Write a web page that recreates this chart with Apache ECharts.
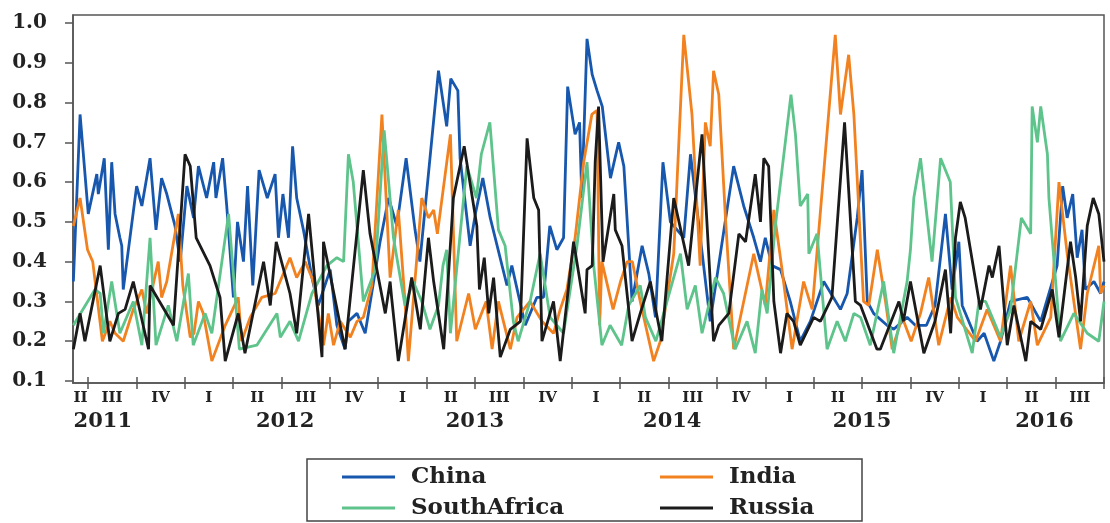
<!DOCTYPE html>
<html>
<head>
<meta charset="utf-8">
<script src="https://cdn.jsdelivr.net/npm/echarts@6/dist/echarts.min.js"></script>
<style>
  html, body { margin: 0; padding: 0; background: #fff; }
  #chart { width: 1110px; height: 523px; }
</style>
</head>
<body>
<div id="chart"></div>
<script>
// Weekly connectedness index, June 2011 – September 2016.
// x = weeks since the first observation, y = index value.
const chinaPts = [[0.1,.35],[1.9,.77],[4.1,.52],[6.4,.62],[6.8,.57],[8.4,.66],[9.5,.43],[10.4,.65],[11.3,.52],[12.6,.46],[13.1,.44],[13.5,.33],[17.1,.59],[18.5,.54],[20.7,.66],[22.3,.48],[23.8,.61],[25.2,.57],[27.4,.49],[28.8,.40],[30.6,.59],[32.4,.51],[33.7,.64],[35.9,.56],[37.8,.65],[38.4,.56],[40.2,.66],[41.3,.54],[43.1,.31],[44.2,.50],[45.8,.40],[46.9,.59],[48.3,.34],[50.0,.63],[52.2,.56],[54.3,.62],[55.2,.46],[56.4,.57],[57.9,.46],[59.0,.69],[60.1,.56],[61.9,.48],[64.2,.36],[65.9,.29],[69.1,.38],[70.9,.24],[73.1,.18],[74.0,.25],[76.3,.27],[78.5,.22],[82.5,.45],[84.8,.56],[87.0,.49],[89.5,.66],[91.9,.48],[93.2,.40],[98.2,.88],[100.4,.74],[101.5,.86],[103.4,.83],[104.0,.66],[106.7,.44],[108.1,.52],[110.1,.61],[112.1,.51],[116.6,.34],[117.9,.39],[121.5,.24],[124.6,.31],[126.4,.31],[128.1,.49],[130.0,.43],[131.8,.46],[132.9,.84],[134.9,.72],[136.1,.75],[136.7,.56],[138.1,.96],[139.5,.87],[140.8,.83],[142.2,.79],[144.4,.61],[146.6,.70],[148.0,.64],[150.2,.30],[152.9,.44],[154.7,.37],[156.5,.26],[158.5,.65],[160.5,.50],[164.1,.46],[165.9,.67],[171.2,.25],[175.7,.53],[177.5,.64],[180.2,.54],[182.9,.46],[184.7,.40],[186.0,.46],[187.8,.39],[190.1,.38],[192.7,.30],[195.4,.20],[198.1,.25],[201.7,.35],[206.2,.28],[208.0,.32],[210.7,.51],[212.0,.63],[213.4,.30],[215.1,.27],[218.7,.24],[220.5,.23],[224.1,.26],[226.3,.24],[229.3,.24],[231.6,.29],[234.4,.52],[236.2,.33],[238.0,.45],[238.9,.29],[242.9,.20],[244.8,.22],[247.4,.15],[249.2,.20],[251.9,.30],[256.4,.31],[260.0,.25],[264.4,.39],[265.9,.59],[267.1,.51],[268.6,.57],[269.8,.41],[271.1,.48],[272.0,.33],[274.3,.35],[276.1,.32],[277,.35]];

const indiaPts = [[0.1,.49],[1.9,.56],[3.9,.43],[5.3,.40],[7.9,.20],[9.9,.25],[11.3,.22],[13.5,.20],[16.2,.28],[18.5,.33],[19.8,.27],[22.9,.40],[23.8,.31],[25.2,.35],[28.3,.52],[29.5,.34],[31.5,.21],[32.5,.22],[33.7,.30],[35.0,.27],[37.3,.15],[40.9,.24],[44.4,.31],[45.3,.20],[47.6,.26],[50.7,.31],[54.3,.32],[58.3,.41],[60.1,.36],[62.4,.40],[64.6,.35],[67.3,.19],[68.6,.27],[70.0,.19],[71.8,.25],[74.5,.21],[76.3,.25],[78.0,.26],[80.3,.34],[83.0,.77],[85.2,.36],[87.4,.53],[89.2,.30],[90.1,.15],[93.7,.56],[95.5,.51],[96.9,.53],[97.9,.47],[101.4,.72],[103.1,.20],[106.3,.32],[108.1,.23],[111.0,.30],[112.6,.18],[114.3,.30],[117.5,.18],[119.3,.26],[122.8,.30],[126.0,.25],[129.1,.22],[130.9,.28],[132.7,.33],[134.9,.46],[137.2,.65],[139.4,.77],[140.8,.78],[141.5,.24],[142.1,.40],[145.1,.28],[147.1,.35],[148.9,.40],[150.3,.40],[152.4,.30],[156.0,.15],[157.8,.20],[161.4,.42],[164.1,.97],[166.3,.77],[168.5,.39],[169.9,.75],[171.2,.69],[172.1,.88],[173.5,.82],[175.3,.51],[177.5,.18],[182.9,.42],[186.0,.29],[188.3,.53],[190.5,.38],[193.2,.18],[196.3,.35],[198.6,.28],[204.8,.97],[206.2,.77],[208.4,.92],[209.8,.77],[212.4,.30],[213.8,.29],[216.1,.43],[218.3,.30],[220.1,.18],[222.8,.26],[225.2,.20],[227.7,.27],[229.9,.36],[232.6,.19],[235.8,.31],[237.6,.26],[242.5,.20],[245.6,.28],[249.2,.20],[251.9,.39],[254.1,.20],[257.3,.30],[259.1,.19],[262.7,.26],[264.9,.60],[267.1,.42],[270.7,.18],[272.5,.32],[275.6,.44],[276.1,.32],[277,.34]];

const southAfricaPts = [[0.1,.24],[5.9,.33],[7.3,.32],[8.2,.22],[10.4,.35],[12.6,.22],[16.2,.30],[18.5,.19],[20.7,.46],[22.3,.19],[25.6,.29],[27.9,.20],[31.0,.37],[32.3,.19],[35.5,.27],[37.3,.22],[41.8,.52],[44.7,.18],[49.4,.19],[54.8,.27],[55.7,.21],[58.3,.25],[60.6,.20],[64.2,.32],[68.2,.39],[70.9,.41],[72.7,.40],[74.0,.67],[75.3,.60],[78.0,.30],[81.2,.38],[83.6,.73],[86.1,.46],[89.2,.29],[91.4,.35],[93.7,.30],[95.9,.23],[98.2,.29],[99.4,.39],[100.4,.43],[101.4,.22],[105.8,.64],[108.4,.56],[109.7,.67],[112.0,.75],[114.3,.48],[116.1,.44],[118.3,.25],[119.6,.20],[122.8,.30],[125.5,.42],[128.2,.26],[131.8,.22],[135.4,.44],[138.1,.65],[139.9,.39],[142.1,.19],[144.3,.24],[147.4,.19],[149.3,.29],[152.4,.34],[153.8,.26],[156.6,.20],[163.2,.42],[165.0,.28],[167.2,.34],[169.0,.22],[172.6,.36],[174.8,.32],[177.9,.18],[181.1,.25],[183.3,.17],[185.1,.33],[186.5,.27],[188.7,.49],[192.9,.82],[194.1,.72],[195.4,.54],[197.4,.57],[197.7,.42],[199.9,.47],[202.6,.18],[205.3,.25],[207.5,.20],[209.8,.27],[211.6,.26],[214.2,.19],[217.8,.35],[220.5,.17],[224.1,.35],[225.0,.43],[225.9,.56],[227.7,.66],[230.8,.40],[233.1,.66],[235.7,.60],[237.1,.31],[241.6,.17],[243.4,.30],[245.2,.30],[249.2,.21],[251.9,.28],[254.8,.51],[257.3,.47],[257.7,.79],[259.1,.70],[260.0,.79],[261.8,.67],[262.2,.56],[265.3,.20],[268.9,.27],[272.5,.22],[275.6,.20],[277,.30]];

const russiaPts = [[0.1,.18],[1.9,.27],[3.2,.20],[7.3,.39],[9.9,.20],[12.2,.27],[14.0,.28],[16.2,.35],[20.3,.18],[20.7,.34],[27.0,.24],[30.1,.67],[31.5,.64],[33.1,.46],[36.8,.39],[39.5,.31],[40.9,.15],[44.4,.27],[46.2,.17],[51.2,.40],[53.0,.29],[54.6,.45],[58.3,.32],[60.1,.22],[63.3,.52],[66.9,.16],[67.3,.45],[73.1,.18],[78.0,.63],[79.8,.47],[83.9,.27],[85.2,.35],[85.6,.31],[87.4,.15],[91.0,.36],[93.3,.23],[95.5,.46],[96.9,.35],[99.6,.18],[102.2,.56],[105.1,.69],[108.5,.49],[109.2,.33],[110.5,.41],[111.7,.27],[113.0,.36],[114.8,.16],[117.5,.23],[120.2,.25],[122.0,.71],[123.8,.56],[125.1,.53],[126.0,.20],[129.1,.30],[130.9,.15],[134.5,.45],[137.6,.27],[138.1,.38],[139.5,.39],[140.3,.65],[141.2,.79],[142.4,.40],[145.3,.57],[145.7,.48],[147.5,.44],[150.2,.20],[152.4,.27],[155.1,.35],[158.2,.20],[161.4,.56],[165.4,.39],[169.0,.72],[172.1,.20],[173.5,.24],[176.2,.27],[178.9,.47],[180.7,.45],[183.3,.62],[184.7,.50],[185.6,.66],[186.9,.64],[188.3,.30],[190.1,.17],[191.8,.27],[193.6,.25],[195.4,.19],[199.0,.26],[200.8,.25],[203.9,.31],[207.3,.75],[210.2,.30],[211.6,.29],[216.0,.18],[216.9,.18],[221.9,.30],[223.1,.25],[225.0,.35],[228.6,.17],[231.6,.25],[234.4,.38],[235.8,.22],[237.1,.46],[238.4,.55],[239.7,.51],[243.8,.28],[246.1,.39],[247.0,.36],[248.8,.44],[251.0,.19],[252.8,.29],[256.0,.15],[257.3,.25],[260.0,.23],[263.1,.33],[264.9,.21],[268.0,.45],[269.4,.36],[270.7,.25],[272.5,.49],[274.1,.56],[275.6,.52],[277,.40]];

// Axis text
const yTicks = [0.1, 0.2, 0.3, 0.4, 0.5, 0.6, 0.7, 0.8, 0.9, 1.0];
const quarterNames = ['II','III','IV','I','II','III','IV','I','II','III','IV','I','II','III','IV','I','II','III','IV','I','II','III'];
const yearNames = ['2011','2012','2013','2014','2015','2016'];
const yearWeeks = [8, 57, 108, 161, 212, 261];

// Calendar layout: first quarter boundary (1 July 2011) falls on week 4,
// each quarter is 13 weeks, the span ends with Q3 2016.
const firstBoundary = 4, weeksPerQuarter = 13, lastWeek = 277;
const quarterBounds = [];
for (let w = firstBoundary; w <= lastWeek; w += weeksPerQuarter) quarterBounds.push(w);
const quarterCenters = [firstBoundary / 2];
for (let i = 0; i < quarterBounds.length - 1; i++) quarterCenters.push(quarterBounds[i] + weeksPerQuarter / 2);

function nearestLabel(positions, names, v) {
  let best = 0;
  for (let i = 1; i < positions.length; i++) {
    if (Math.abs(positions[i] - v) < Math.abs(positions[best] - v)) best = i;
  }
  return names[best];
}

const serif = '"DejaVu Serif", "Liberation Serif", serif';
const axisColor = '#555';
const textColor = '#222';

const chart = echarts.init(document.getElementById('chart'), null, { renderer: 'canvas' });

const seriesDefs = [
  { name: 'China', data: chinaPts, color: '#1757ad' },
  { name: 'India', data: indiaPts, color: '#f2821f' },
  { name: 'SouthAfrica', data: southAfricaPts, color: '#5ec48b' },
  { name: 'Russia', data: russiaPts, color: '#1b1b1b' }
];

const legendCommon = {
  orient: 'vertical',
  padding: 0,
  height: 60,
  itemWidth: 53,
  itemHeight: 3,
  itemGap: 7,
  icon: 'rect',
  selectedMode: false,
  textStyle: {
    fontFamily: serif,
    fontWeight: 'bold',
    fontSize: 23,
    lineHeight: 24,
    color: textColor,
    padding: [0, 0, 0, 11]
  }
};

chart.setOption({
  animation: false,
  backgroundColor: '#fff',
  grid: {
    left: 73, right: 6, top: 15, bottom: 140,
    show: true, borderColor: axisColor, borderWidth: 1.5, backgroundColor: 'transparent'
  },
  legend: [
    Object.assign({ data: ['China', 'SouthAfrica'], left: 342, top: 465 }, legendCommon),
    Object.assign({ data: ['India', 'Russia'], left: 660, top: 465 }, legendCommon)
  ],
  graphic: [{
    type: 'rect',
    shape: { x: 307, y: 459, width: 555, height: 62 },
    style: { fill: 'none', stroke: '#444', lineWidth: 1.5 },
    silent: true
  }],
  xAxis: [
    {
      type: 'value', position: 'bottom', min: 0, max: lastWeek,
      axisLine: { show: true, lineStyle: { color: axisColor, width: 1.5 } },
      axisTick: { show: true, customValues: quarterBounds, length: 6, lineStyle: { color: axisColor, width: 1.5 } },
      axisLabel: {
        customValues: quarterCenters,
        formatter: v => nearestLabel(quarterCenters, quarterNames, v),
        fontFamily: serif, fontWeight: 'bold', fontSize: 15, color: textColor, margin: 8
      },
      splitLine: { show: false }
    },
    {
      type: 'value', position: 'bottom', min: 0, max: lastWeek,
      axisLine: { show: false },
      axisTick: { show: true, inside: true, customValues: quarterBounds, length: 6, lineStyle: { color: axisColor, width: 1.5 } },
      axisLabel: { show: false },
      splitLine: { show: false }
    },
    {
      type: 'value', position: 'bottom', min: 0, max: lastWeek, offset: 22,
      axisLine: { show: false },
      axisTick: { show: false },
      axisLabel: {
        customValues: yearWeeks,
        formatter: v => nearestLabel(yearWeeks, yearNames, v),
        fontFamily: serif, fontWeight: 'bold', fontSize: 21, color: textColor, margin: 6
      },
      splitLine: { show: false }
    }
  ],
  yAxis: {
    type: 'value', min: 0.095, max: 1.02,
    axisLine: { show: true, lineStyle: { color: axisColor, width: 1.5 } },
    axisTick: { show: true, customValues: yTicks, length: 8, lineStyle: { color: axisColor, width: 1.5 } },
    axisLabel: {
      customValues: yTicks,
      formatter: v => v.toFixed(1),
      fontFamily: serif, fontWeight: 'bold', fontSize: 20, color: textColor, margin: 26
    },
    splitLine: { show: false }
  },
  series: seriesDefs.map(s => ({
    name: s.name,
    type: 'line',
    xAxisIndex: 0,
    data: s.data,
    showSymbol: false,
    symbol: 'none',
    color: s.color,
    lineStyle: { color: s.color, width: 2.8 },
    emphasis: { disabled: true }
  }))
});
</script>
</body>
</html>
